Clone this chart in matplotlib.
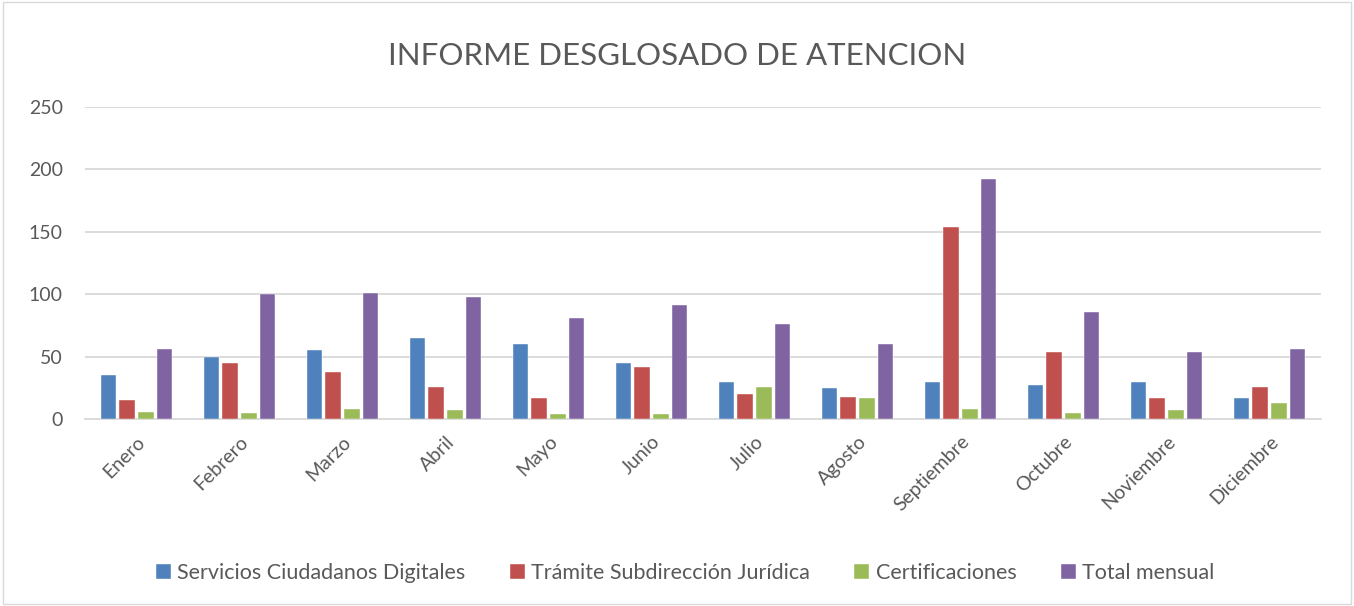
import numpy as np
import matplotlib
matplotlib.use('Agg')
import matplotlib.pyplot as plt
from matplotlib.patches import Rectangle

# ===================== datos =====================
meses = ['Enero', 'Febrero', 'Marzo', 'Abril', 'Mayo', 'Junio', 'Julio',
         'Agosto', 'Septiembre', 'Octubre', 'Noviembre', 'Diciembre']
servicios = [35, 50, 55, 65, 60, 45, 30, 25, 30, 27, 30, 17]
tramite = [15, 45, 38, 26, 17, 42, 20, 18, 154, 54, 17, 26]
certificaciones = [6, 5, 8, 7, 4, 4, 26, 17, 8, 5, 7, 13]
total = [56, 100, 101, 98, 81, 91, 76, 60, 192, 86, 54, 56]

series = ['Servicios Ciudadanos Digitales', 'Trámite Subdirección Jurídica',
          'Certificaciones', 'Total mensual']
colores = ['#4F81BD', '#C0504D', '#9BBB59', '#8064A2']
y_ticks = [0, 50, 100, 150, 200, 250]

plt.rcParams['font.family'] = ['Lato', 'DejaVu Sans']
TXT = '#595959'

fig = plt.figure(figsize=(13.54, 6.06), dpi=100)
ax = fig.add_axes([0.0628, 0.3086, 0.9128, 0.5148])

x = np.arange(len(meses))
paso = 0.182
ancho = 0.15
for i, (vals, nombre, c) in enumerate(zip([servicios, tramite, certificaciones, total], series, colores)):
    ax.bar(x + (i - 1.5) * paso, vals, width=ancho, color=c, label=nombre,
           edgecolor='white', linewidth=0.3, zorder=3)

ax.set_xlim(-0.5, len(meses) - 0.5)
ax.set_ylim(0, 250)
ax.set_yticks(y_ticks)
ax.set_yticklabels([str(v) for v in y_ticks], fontsize=14, color=TXT)
ax.set_xticks(x)
ax.set_xticklabels(meses, rotation=45, ha='right', rotation_mode='anchor',
                   fontsize=14, color=TXT)
ax.tick_params(axis='both', length=0, pad=10)
ax.tick_params(axis='y', pad=16)
ax.yaxis.grid(True, color='#D9D9D9', linewidth=1.3, zorder=0)
for s in ['top', 'right', 'left']:
    ax.spines[s].set_visible(False)
ax.spines['bottom'].set_color('#D9D9D9')
ax.spines['bottom'].set_linewidth(1.3)

fig.text(0.5, 0.908, 'INFORME DESGLOSADO DE ATENCION', ha='center', va='center',
         fontsize=22.5, color=TXT)

leg = fig.legend(loc='center', bbox_to_anchor=(0.506, 0.054), ncol=4, frameon=False,
                 fontsize=15.5, handlelength=0.7, handleheight=0.7,
                 handletextpad=0.3, columnspacing=2.05)
for t in leg.get_texts():
    t.set_color(TXT)

# borde del gráfico
fig.patches.append(Rectangle((0.002, 0.003), 0.996, 0.994, transform=fig.transFigure,
                             fill=False, edgecolor='#D9D9D9', linewidth=1))

fig.savefig('out.png', dpi=100)
